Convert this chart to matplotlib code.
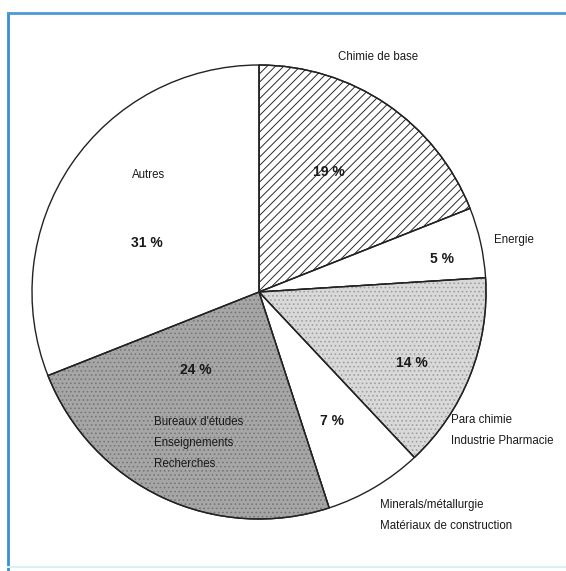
import matplotlib.pyplot as plt
from matplotlib.patches import Wedge
from matplotlib.lines import Line2D

# data (clockwise from 12 o'clock)
secteurs = ["Chimie de base", "Energie", "Para chimie\nIndustrie Pharmacie",
            "Minerals/métallurgie\nMatériaux de construction",
            "Bureaux d'études\nEnseignements\nRecherches", "Autres"]
parts = [19, 5, 14, 7, 24, 31]

W, H = 566, 571
plt.rcParams["font.family"] = ["Liberation Sans", "DejaVu Sans"]
plt.rcParams["hatch.linewidth"] = 0.7

fig = plt.figure(figsize=(W / 100, H / 100), dpi=100)
ax = fig.add_axes([0, 0, 1, 1])

cx, cy, r = 259, H - 292, 227
fonds = ["white", "white", "#d9d9d9", "white", "#a6a6a6", "white"]
hachures = ["////", None, "....", None, "....", None]
coul_hach = ["#2a2a2a", None, "#a0a0a0", None, "#777777", None]

wedges, _ = ax.pie(parts, startangle=90, counterclock=False, center=(cx, cy),
                   radius=r, colors=fonds, frame=True,
                   wedgeprops=dict(edgecolor="#222222", linewidth=1.0))
ax.set_xlim(0, W)
ax.set_ylim(0, H)
ax.axis("off")

# hatch overlays in their own colour
for w, h, c in zip(wedges, hachures, coul_hach):
    if h is None:
        continue
    hw = Wedge(w.center, w.r, w.theta1, w.theta2, fill=False, hatch=h,
               edgecolor=c, linewidth=0, zorder=w.get_zorder() + 0.1)
    ax.add_patch(hw)
    ow = Wedge(w.center, w.r, w.theta1, w.theta2, fill=False,
               edgecolor="#222222", linewidth=1.0, zorder=w.get_zorder() + 0.2)
    ax.add_patch(ow)

# percentages
pct_pos = [(329, 172), (442, 259), (412, 363), (332, 421), (196, 370), (147, 243)]
for v, (x, y) in zip(parts, pct_pos):
    ax.text(x, H - y, f"{v} %", ha="center", va="center", fontsize=10,
            fontweight="bold", color="#1a1a1a", zorder=10)

# category labels
lab_pos = [(338, 57, "left"), (494, 240, "left"), (451, 420, "left"),
           (380, 505, "left"), (154, 422, "left"), (149, 175, "center")]
for lab, (x, y, ha) in zip(secteurs, lab_pos):
    for i, ligne in enumerate(lab.split("\n")):
        ax.text(x, H - y - i * 21, ligne, ha=ha, va="center", fontsize=8.3,
                color="#1a1a1a", zorder=10)

# blue scan frame
fig.add_artist(Line2D([8 / W, 8 / W], [0, 1 - 13 / H], color="#3a8fd0", lw=2))
fig.add_artist(Line2D([8 / W, 1], [1 - 13 / H, 1 - 13 / H], color="#4a9ad6", lw=2))
fig.add_artist(Line2D([8 / W, 1], [4 / H, 4 / H], color="#d8f0f6", lw=1.5))

fig.savefig("out.png", dpi=100)
